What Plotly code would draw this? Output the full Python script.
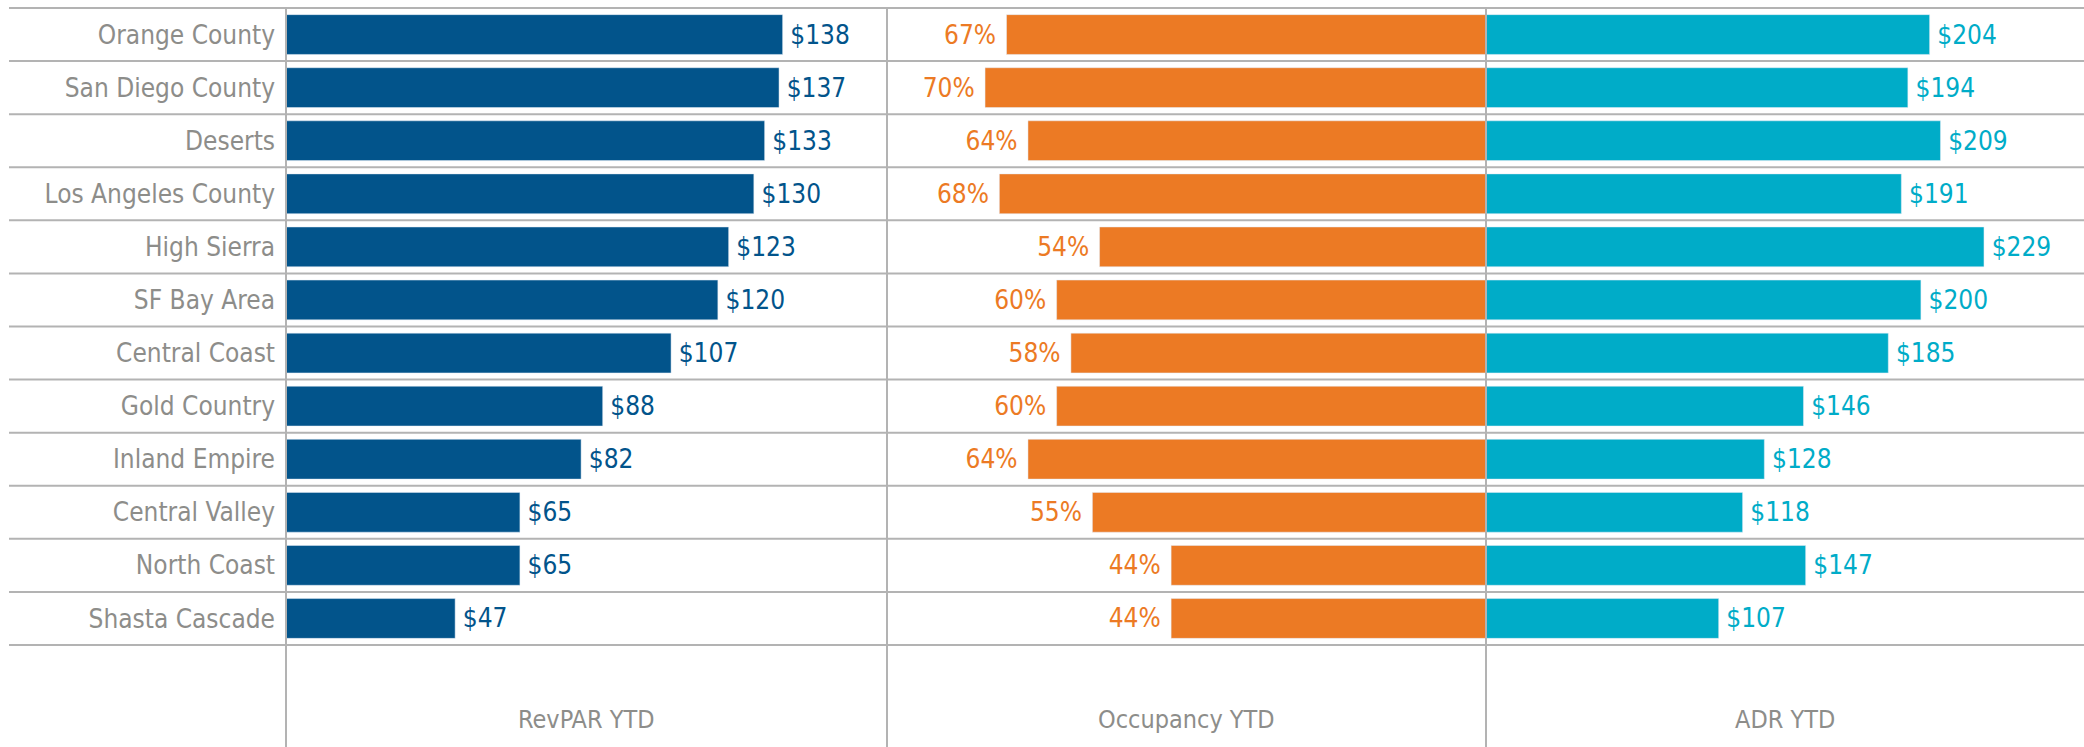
import plotly.graph_objects as go

# Regions, top to bottom
regions = [
    "Orange County", "San Diego County", "Deserts", "Los Angeles County",
    "High Sierra", "SF Bay Area", "Central Coast", "Gold Country",
    "Inland Empire", "Central Valley", "North Coast", "Shasta Cascade",
]
revpar_ytd = [138, 137, 133, 130, 123, 120, 107, 88, 82, 65, 65, 47]
occupancy_ytd = [67, 70, 64, 68, 54, 60, 58, 60, 64, 55, 44, 44]
adr_ytd = [204, 194, 209, 191, 229, 200, 185, 146, 128, 118, 147, 107]
panel_titles = ["RevPAR YTD", "Occupancy YTD", "ADR YTD"]

BLUE = "#02548B"
ORANGE = "#EC7A24"
TEAL = "#00ACC8"
GRID = "#B3B3B3"
LABEL_GRAY = "#8D8D8A"
FONT = "Liberation Sans Narrow, DejaVu Sans Condensed, Roboto, sans-serif"
FS = 26

W, H = 2084, 747
L, R, T, B = 286, 0, 8, 102
plot_w = W - L - R
plot_h = H - T - B
split1 = (887 - L) / plot_w
split2 = (1486 - L) / plot_w

fig = go.Figure()

fig.add_trace(go.Bar(
    y=regions, x=revpar_ytd, orientation="h", marker_color=BLUE,
    width=0.75, xaxis="x", yaxis="y",
    texttemplate="\u2009$%{x}", textposition="outside",
    textfont=dict(color=BLUE, size=FS, family=FONT), cliponaxis=False,
))
fig.add_trace(go.Bar(
    y=regions, x=occupancy_ytd, orientation="h", marker_color=ORANGE,
    width=0.75, xaxis="x2", yaxis="y",
    texttemplate="%{x}% ", textposition="outside",
    textfont=dict(color=ORANGE, size=FS, family=FONT), cliponaxis=False,
))
fig.add_trace(go.Bar(
    y=regions, x=adr_ytd, orientation="h", marker_color=TEAL,
    width=0.75, xaxis="x3", yaxis="y",
    texttemplate="\u2009$%{x}", textposition="outside",
    textfont=dict(color=TEAL, size=FS, family=FONT), cliponaxis=False,
))

hidden = dict(showgrid=False, zeroline=False, showticklabels=False,
              showline=False, ticks="", fixedrange=True)

fig.update_layout(
    width=W, height=H,
    margin=dict(l=L, r=R, t=T, b=B, pad=0),
    paper_bgcolor="white", plot_bgcolor="white",
    showlegend=False,
    font=dict(family=FONT, size=FS, color=LABEL_GRAY),
    xaxis=dict(domain=[0, split1], range=[0, 167], anchor="y", **hidden),
    xaxis2=dict(domain=[split1, split2], range=[83.7, 0], anchor="y", **hidden),
    xaxis3=dict(domain=[split2, 1], range=[0, 275], anchor="y", **hidden),
    yaxis=dict(
        type="category", categoryorder="array", categoryarray=regions,
        range=[len(regions) - 0.5, -0.5],
        showgrid=False, zeroline=False, showline=False, ticks="",
        ticklabelstandoff=10,
        tickfont=dict(family=FONT, size=FS, color=LABEL_GRAY),
        fixedrange=True,
    ),
    bargap=0.25,
)

# Row separators, spanning label column and all panels
n = len(regions)
left_edge = -(L - 9) / plot_w
shapes = []
for k in range(n + 1):
    shapes.append(dict(type="line", xref="paper", yref="paper",
                       x0=left_edge, x1=1, y0=k / n, y1=k / n,
                       line=dict(color=GRID, width=2), layer="above"))
# Panel dividers running down through the title band
bottom = -B / plot_h
for xv in [0, split1, split2]:
    shapes.append(dict(type="line", xref="paper", yref="paper",
                       x0=xv, x1=xv, y0=bottom, y1=1,
                       line=dict(color=GRID, width=2), layer="above"))
fig.update_layout(shapes=shapes)

# Panel titles below the bars
title_y = -(719 - (T + plot_h)) / plot_h
for ax, title in zip(["x", "x2", "x3"], panel_titles):
    fig.add_annotation(
        text=title, xref=f"{ax} domain", yref="paper", x=0.5, y=title_y,
        showarrow=False, xanchor="center", yanchor="middle",
        font=dict(family=FONT, size=FS - 1, color=LABEL_GRAY),
    )

fig.write_html("out.html", config={"displayModeBar": False})
